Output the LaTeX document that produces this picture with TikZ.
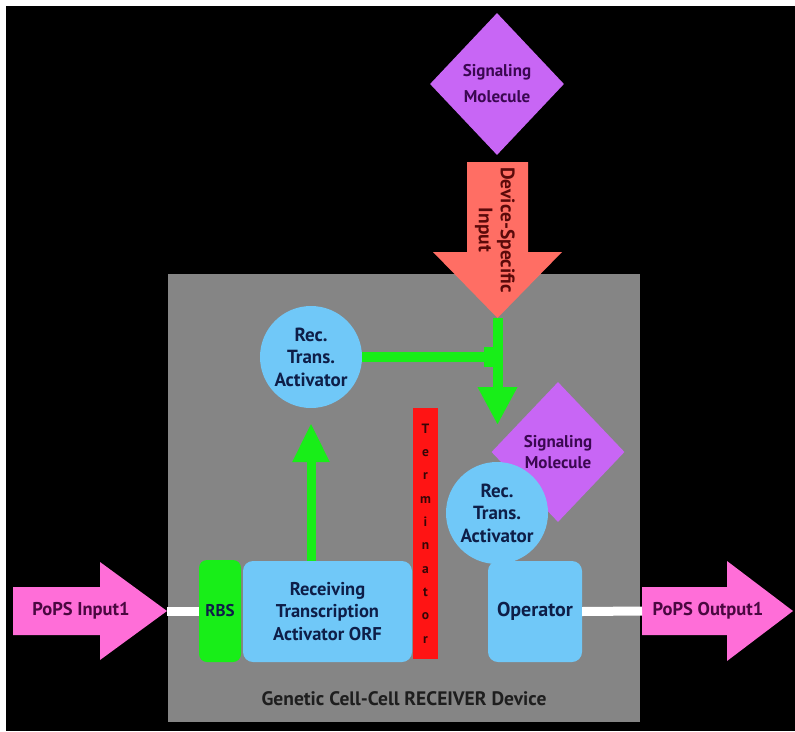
\documentclass[tikz,border=0pt]{standalone}
\usepackage{fontspec}
\setmainfont{PT Sans}
\usetikzlibrary{shapes.geometric,arrows.meta}
\definecolor{devgray}{HTML}{858585}
\definecolor{skyb}{HTML}{70C8F8}
\definecolor{lilac}{HTML}{C866F5}
\definecolor{salmon}{HTML}{FF6E64}
\definecolor{lime}{HTML}{18EE18}
\definecolor{termred}{HTML}{FF1414}
\definecolor{popspink}{HTML}{FF6ED8}
\definecolor{navytext}{HTML}{0E1E48}
\definecolor{purpletext}{HTML}{3A0850}
\definecolor{redtext}{HTML}{5A0A0A}
\definecolor{pinktext}{HTML}{4A0840}
\definecolor{graytext}{HTML}{1E1E1E}
\begin{document}
\begin{tikzpicture}[x=1pt,y=-1pt,
  circ/.style={circle, fill=skyb, minimum size=102pt, inner sep=0pt, align=center,
    text=navytext, font=\fontsize{19}{22.5}\selectfont\bfseries},
  bluebox/.style={rectangle, rounded corners=10pt, fill=skyb, inner sep=0pt, align=center,
    text=navytext, font=\fontsize{18.5}{22.5}\selectfont\bfseries},
  dmd/.style={diamond, fill=lilac, inner sep=0pt, align=center, text=purpletext},
  greenline/.style={draw=lime, line width=10pt},
  whiteline/.style={draw=white, line width=9pt},
  popslabel/.style={text=pinktext, font=\fontsize{18.5}{18}\selectfont\bfseries, inner sep=0pt}
]
\useasboundingbox (0,0) rectangle (795,731);
\fill[white] (0,0) rectangle (795,731);
\fill[black] (6,6) rectangle (795,731);

% device box
\node[fill=devgray, minimum width=472pt, minimum height=448pt, inner sep=0pt] (dev) at (404,498) {};
\node[text=graytext, font=\fontsize{19.5}{20}\selectfont\bfseries] (devlabel) at (404,699) {Genetic Cell-Cell RECEIVER Device};

% top signaling molecule
\node[dmd, minimum width=134pt, minimum height=142pt, font=\fontsize{17}{26}\selectfont\bfseries] (sig1) at (497,84) {Signaling\\Molecule};

% device-specific input arrow
\fill[salmon] (467,162) -- (528,162) -- (528,252) -- (562,252) -- (497.5,318) -- (433,252) -- (467,252) -- cycle;
\coordinate (dsitip) at (497.5,318);
\node[rotate=-90, text=redtext, align=center, font=\fontsize{19.5}{22}\selectfont\bfseries] (dsi) at (495,230) {Device-Specific\\Input};

% receiving transcription activator (upper)
\node[circ] (rec1) at (311,357) {Rec.\\Trans.\\Activator};

% green arrows
\coordinate (gtip) at (497.5,425);
\draw[greenline, -{Triangle[width=37pt,length=38pt]}] (dsitip) -- (gtip);
\coordinate (inhib) at (494,357);
\draw[greenline, -{Bar[width=20pt]}] (rec1.east) -- (inhib);

% lower signaling molecule and activator
\node[dmd, minimum width=133pt, minimum height=140pt, font=\fontsize{17}{20.5}\selectfont\bfseries] (sig2) at (558,452) {Signaling\\Molecule};
\node[circ] (rec2) at (497,513) {Rec.\\Trans.\\Activator};

% parts
\node[rectangle, rounded corners=8pt, fill=lime, minimum width=42pt, minimum height=102pt, inner sep=0pt,
  text=navytext, font=\fontsize{17}{18}\selectfont\bfseries] (rbs) at (220,611) {RBS};
\node[bluebox, minimum width=169pt, minimum height=101pt] (orf) at (327.5,611.5) {Receiving\\Transcription\\Activator ORF};
\node[rectangle, fill=termred, minimum width=25pt, minimum height=251pt, inner sep=0pt, align=center,
  text=redtext!60!black, font=\fontsize{13.5}{23.3}\selectfont\bfseries] (term) at (425.5,533.5) {T\\e\\r\\m\\i\\n\\a\\t\\o\\r};
\node[bluebox, minimum width=94pt, minimum height=101pt, font=\fontsize{20}{20}\selectfont\bfseries] (op) at (535,611.5) {Operator};

\draw[draw=lime, line width=9pt, -{Triangle[width=35pt,length=39pt]}] (orf.north -| rec1.south) -- ([yshift=-15pt]rec1.south);

% PoPS arrows
\fill[popspink] (13,587) -- (100,587) -- (100,562) -- (167,611) -- (100,660) -- (100,635) -- (13,635) -- cycle;
\coordinate (intip) at (167,611);
\node[popslabel] (inlabel) at (81,611) {PoPS Input1};
\fill[popspink] (642,587) -- (727,587) -- (727,561) -- (793,611) -- (727,661) -- (727,635) -- (642,635) -- cycle;
\coordinate (outtail) at (642,611);
\node[popslabel] (outlabel) at (708,611) {PoPS Output1};

\draw[whiteline] (intip) -- (rbs.west);
\draw[whiteline] (op.east) -- (outtail);
\end{tikzpicture}
\end{document}
